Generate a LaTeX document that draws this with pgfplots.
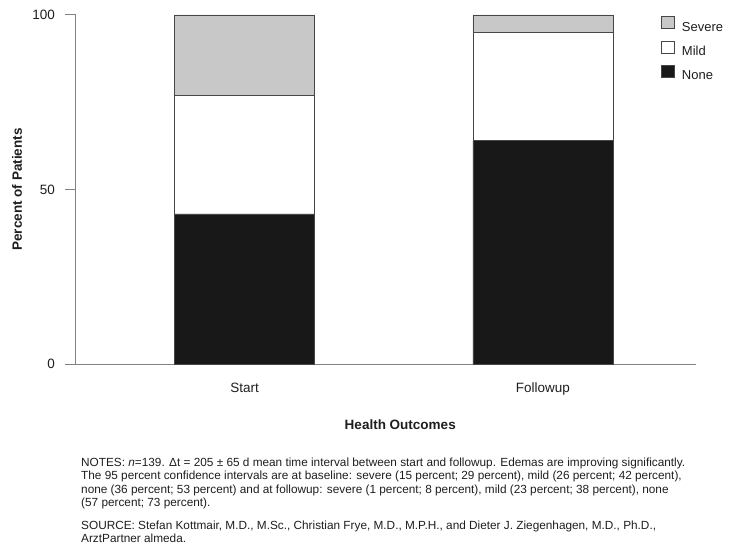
\documentclass[border=0pt]{standalone}
\usepackage{fontspec}
\setmainfont{Liberation Sans}
\usepackage{pgfplots}
\pgfplotsset{compat=1.18}
\definecolor{c_severe}{RGB}{200,200,200}
\definecolor{c_mild}{RGB}{255,255,255}
\definecolor{c_none}{RGB}{24,24,24}
\definecolor{c_edge}{RGB}{70,70,70}
\definecolor{c_axis}{RGB}{130,130,130}
\definecolor{c_text}{RGB}{30,30,30}

\begin{document}
\begin{tikzpicture}
% page = reference image, axis origin at pixel (76,364)
\useasboundingbox (-76bp,-184bp) rectangle (655bp,364bp);
\begin{axis}[
    at={(0,0)}, anchor=south west,
    scale only axis,
    width=620bp, height=349bp,
    ybar stacked,
    bar width=140bp,
    xmin=-0.565, xmax=1.513,
    ymin=0, ymax=100,
    xtick={0,1},
    xticklabels={Start,Followup},
    ytick={0,50,100},
    axis x line*=bottom,
    axis y line*=left,
    axis line style={c_axis, line width=1bp},
    ytick align=outside,
    xtick align=inside,
    major tick length=11bp,
    ytick style={c_axis, line width=1bp},
    xtick style={draw=none},
    /pgf/number format/assume math mode=true,
    tick label style={font=\fontsize{13.5bp}{16bp}\selectfont, text=c_text},
    yticklabel style={inner sep=0pt, xshift=-10bp},
    xticklabel style={inner sep=0pt, anchor=north, yshift=-19bp},
    xlabel={\textbf{Health Outcomes}},
    xlabel style={at={(axis description cs:0.523,0)}, anchor=center, yshift=-61bp,
        font=\fontsize{13.5bp}{16bp}\selectfont, text=c_text},
    ylabel={\textbf{Percent of Patients}},
    ylabel style={at={(axis description cs:-0.095,0.5)}, anchor=center,
        font=\fontsize{13.5bp}{16bp}\selectfont, text=c_text},
    legend style={
        at={(axis description cs:0.9435,0.997)}, anchor=north west,
        draw=none, fill=none, inner sep=0pt, row sep=6.5bp, column sep=0pt,
        font=\fontsize{13bp}{15bp}\selectfont, text=c_text,
        nodes={inner sep=0pt, text height=10bp, text depth=3bp},
    },
    legend cell align={left},
    reverse legend,
    legend image code/.code={
        \draw[#1, line width=0.8bp] (0bp,-1bp) rectangle (13bp,11bp);
        \path (20bp,0bp);
    },
    clip=false,
]
\addplot[fill=c_none, draw=c_edge, line width=0.8bp] coordinates {(0,43) (1,64)};
\addplot[fill=c_mild, draw=c_edge, line width=0.8bp] coordinates {(0,34) (1,31)};
\addplot[fill=c_severe, draw=c_edge, line width=0.8bp] coordinates {(0,23) (1,5)};
\legend{None, Mild, Severe}
\end{axis}

% base anchor of a multi-line node sits on its last line
\node[anchor=base west, align=left, inner sep=0pt, text=c_text,
      font=\fontsize{11.8bp}{13.6bp}\selectfont] at (5bp,-142.8bp)
{NOTES: \textit{n}=139. Δt = 205 ± 65 d mean time interval between start and followup. Edemas are improving significantly.\\
The 95 percent confidence intervals are at baseline: severe (15 percent; 29 percent), mild (26 percent; 42 percent),\\
none (36 percent; 53 percent) and at followup: severe (1 percent; 8 percent), mild (23 percent; 38 percent), none\\
(57 percent; 73 percent).};

\node[anchor=base west, align=left, inner sep=0pt, text=c_text,
      font=\fontsize{11.8bp}{13.4bp}\selectfont] at (5bp,-178.7bp)
{SOURCE: Stefan Kottmair, M.D., M.Sc., Christian Frye, M.D., M.P.H., and Dieter J. Ziegenhagen, M.D., Ph.D.,\\
ArztPartner almeda.};
\end{tikzpicture}
\end{document}
